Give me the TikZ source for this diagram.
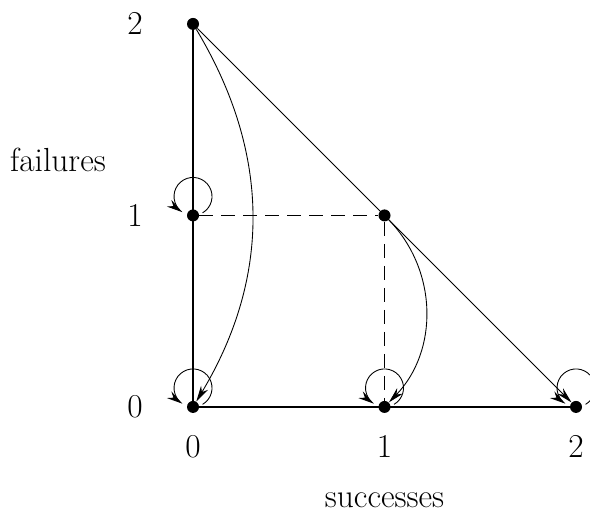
\documentclass[tikz,border=0pt]{standalone}
\usepackage{tikz}
\usetikzlibrary{arrows.meta,calc}

\begin{document}
\begin{tikzpicture}[>={Stealth[length=3.2mm,width=1.6mm]},x=3.83cm,y=3.83cm,
state/.style={circle,fill,inner sep=0pt,minimum size=0.24cm},
lbl/.style={font=\fontsize{19}{23}\selectfont},
axis/.style={line width=0.9pt},
move/.style={line width=0.5pt},
gap/.style={line width=0.5pt,dash pattern=on 0.28cm off 0.16cm}]
\useasboundingbox (-1.008,-0.548) rectangle (2.073,2.125);
\node[state] (n00) at (0,0) {};
\node[state] (n10) at (1,0) {};
\node[state] (n20) at (2,0) {};
\node[state] (n01) at (0,1) {};
\node[state] (n11) at (1,1) {};
\node[state] (n02) at (0,2) {};
% axis labels
\node[lbl] (y2) at (-0.303,2) {2};
\node[lbl] (y1) at (-0.303,1) {1};
\node[lbl] (y0) at (-0.303,0) {0};
\node[lbl] (x0) at (0,-0.209) {0};
\node[lbl] (x1) at (1,-0.209) {1};
\node[lbl] (x2) at (2,-0.209) {2};
\node[lbl] (fail) at (-0.705,1.29) {failures};
\node[lbl] (succ) at (1,-0.486) {successes};
% edges
\draw[axis] (n00)--(n02);
\draw[axis] (n00)--(n20);
\draw[gap] (n01)--(n11);
\draw[gap] (n11)--(n10);
\draw[move,->] (n02)--(n20);
\draw[move,->] (n02) to[bend left=31] (n00);
\draw[move,->] (n11) to[bend left=44] (n10);
\foreach \s in {n00,n10,n20,n01}
  \draw[move,->] ($(\s.center)+(0,0.38cm)+(-60:0.38cm)$) arc[start angle=-60,end angle=236,radius=0.38cm];
\end{tikzpicture}
\end{document}
